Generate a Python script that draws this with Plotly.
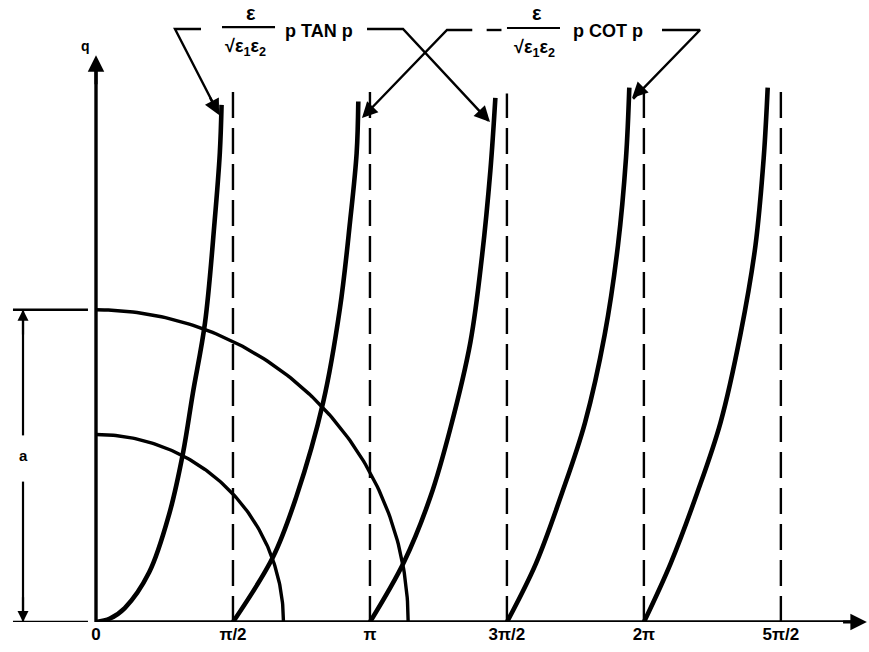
import numpy as np
import plotly.graph_objects as go

HALF_PI = np.pi / 2

# Axis ticks on p (multiples of pi/2)
tick_vals = [0, HALF_PI, np.pi, 3 * HALF_PI, 2 * np.pi, 5 * HALF_PI]
tick_text = ["0", "π/2", "π", "3π/2", "2π", "5π/2"]

# Vertical asymptotes and the height where each dashed line stops
asymptote_p = [HALF_PI, np.pi, 3 * HALF_PI, 2 * np.pi, 5 * HALF_PI]
asymptote_top = [6.11, 6.11, 6.06, 6.09, 6.19]

# Circle radii: the dimensioned one (a) and the smaller one
radius_a = 3.58
radius_small = 2.15

# (eps / sqrt(eps1 eps2)) p tan p  -- branches starting at 0, pi, 2pi
tan1_p = [0.00, 0.16, 0.33, 0.61, 0.84, 1.00, 1.11, 1.25, 1.36, 1.42, 1.44]
tan1_q = [0.00, 0.04, 0.16, 0.57, 1.24, 1.95, 2.62, 3.43, 4.59, 5.38, 5.93]
tan2_p = [3.142, 3.532, 3.836, 4.065, 4.294, 4.427, 4.523, 4.580]
tan2_q = [0.000, 0.688, 1.438, 2.225, 3.211, 4.197, 5.180, 6.010]
tan3_p = [6.284, 6.589, 6.894, 7.162, 7.390, 7.562, 7.657, 7.703]
tan3_q = [0.000, 0.670, 1.479, 2.287, 3.297, 4.312, 5.321, 6.128]

# -(eps / sqrt(eps1 eps2)) p cot p  -- branches starting at pi/2, 3pi/2
cot1_p = [1.571, 2.030, 2.298, 2.606, 2.798, 2.913, 2.989, 3.008]
cot1_q = [0.000, 0.745, 1.438, 2.523, 3.601, 4.587, 5.378, 5.968]
cot2_p = [4.713, 5.045, 5.344, 5.608, 5.834, 5.985, 6.078, 6.116]
cot2_q = [0.000, 0.670, 1.479, 2.287, 3.297, 4.312, 5.321, 6.128]

FONT = "Liberation Sans"
INK = "black"

X_RANGE = [-1.1009, 8.8647]
Y_RANGE = [0.0, 7.133]

fig = go.Figure()


def line(xs, ys, width, dash="solid", shape="linear"):
    fig.add_trace(go.Scatter(
        x=xs, y=ys, mode="lines", cliponaxis=False, hoverinfo="skip",
        line=dict(color=INK, width=width, dash=dash, shape=shape, smoothing=1.0),
        showlegend=False))


# quarter circles
theta = np.linspace(0, HALF_PI, 120)
for r in (radius_a, radius_small):
    line(r * np.cos(theta), r * np.sin(theta), 3.4)

# dashed asymptotes
for p, top in zip(asymptote_p, asymptote_top):
    line([p, p], [0, top], 2.4, dash="26px,10px")

# curve branches
for xs, ys in [(tan1_p, tan1_q), (cot1_p, cot1_q), (tan2_p, tan2_q),
               (cot2_p, cot2_q), (tan3_p, tan3_q)]:
    line(xs, ys, 4.6, shape="spline")

# coordinate axes
line([0, 0], [0, 6.40], 3.4)
line([0, 8.78], [0, 0], 3.4)

# dimension for a
dim_x = -0.837
line([-0.952, -0.092], [0, 0], 2.4)
line([-0.952, -0.092], [radius_a, radius_a], 2.4)
line([dim_x, dim_x], [0, 1.61], 2.2)
line([dim_x, dim_x], [2.14, radius_a], 2.2)

# leader lines for the two labels
line([1.204, 0.906, 1.40], [6.800, 6.800, 5.84], 2.4)
line([3.108, 3.521, 4.50], [6.800, 6.800, 5.75], 2.4)
line([4.025 + 0.29, 4.025, 3.07], [6.789, 6.789, 5.80], 2.4)
line([4.48, 4.65], [6.789, 6.789], 2.4)
line([6.491, 6.927, 6.16], [6.789, 6.789, 6.00], 2.4)
# fraction bars
line([1.445, 2.053], [6.823, 6.823], 2.2)
line([4.713, 5.321], [6.812, 6.812], 2.2)

annotations = []


def arrow(x, y, ax, ay, width=2.4, size=1.3, head=2):
    annotations.append(dict(
        x=x, y=y, ax=ax, ay=ay, xref="x", yref="y", axref="x", ayref="y",
        text="", showarrow=True, arrowhead=head, arrowsize=size,
        arrowwidth=width, arrowcolor=INK, standoff=0))


def text(x, y, s, size, xanchor="center"):
    annotations.append(dict(
        x=x, y=y, xref="x", yref="y", text=s, showarrow=False,
        xanchor=xanchor, yanchor="middle",
        font=dict(family=FONT, size=size, color=INK)))


# arrow tips
arrow(0, 6.50, 0, 6.15, width=3.0, size=1.1)
arrow(8.84, 0, 8.55, 0, width=3.0, size=1.1)
arrow(dim_x, radius_a, dim_x, radius_a - 0.3, width=2.2, size=1.0)
arrow(dim_x, 0, dim_x, 0.3, width=2.2, size=1.0)
arrow(1.411, 5.814, 1.30, 6.03)
arrow(4.518, 5.734, 4.38, 5.88)
arrow(3.050, 5.780, 3.17, 5.905)
arrow(6.147, 6.009, 6.28, 6.14)

# labels
text(-0.115, 6.606, "<b>q</b>", 14)
text(8.82, -0.14, "<b>p</b>", 15)
text(dim_x, 1.915, "<b>a</b>", 15)

text(1.778, 6.985, "<b>ε</b>", 20)
text(1.709, 6.585, "<b>√ε<sub>1</sub>ε<sub>2</sub></b>", 18)
text(2.557, 6.778, "<b>p TAN p</b>", 18)

text(5.057, 6.985, "<b>ε</b>", 20)
text(5.023, 6.575, "<b>√ε<sub>1</sub>ε<sub>2</sub></b>", 18)
text(5.872, 6.778, "<b>p COT p</b>", 18)

fig.update_layout(
    width=869, height=652, autosize=False,
    margin=dict(l=0, r=0, t=0, b=30),
    paper_bgcolor="white", plot_bgcolor="white",
    showlegend=False, hovermode=False,
    annotations=annotations,
    xaxis=dict(range=X_RANGE, showgrid=False, zeroline=False, showline=False,
               ticks="", tickvals=tick_vals,
               ticktext=[f"<b>{t}</b>" for t in tick_text],
               tickfont=dict(family=FONT, size=17, color=INK), fixedrange=True),
    yaxis=dict(range=Y_RANGE, visible=False, fixedrange=True),
)

fig.write_html("out.html", config={"displayModeBar": False})
